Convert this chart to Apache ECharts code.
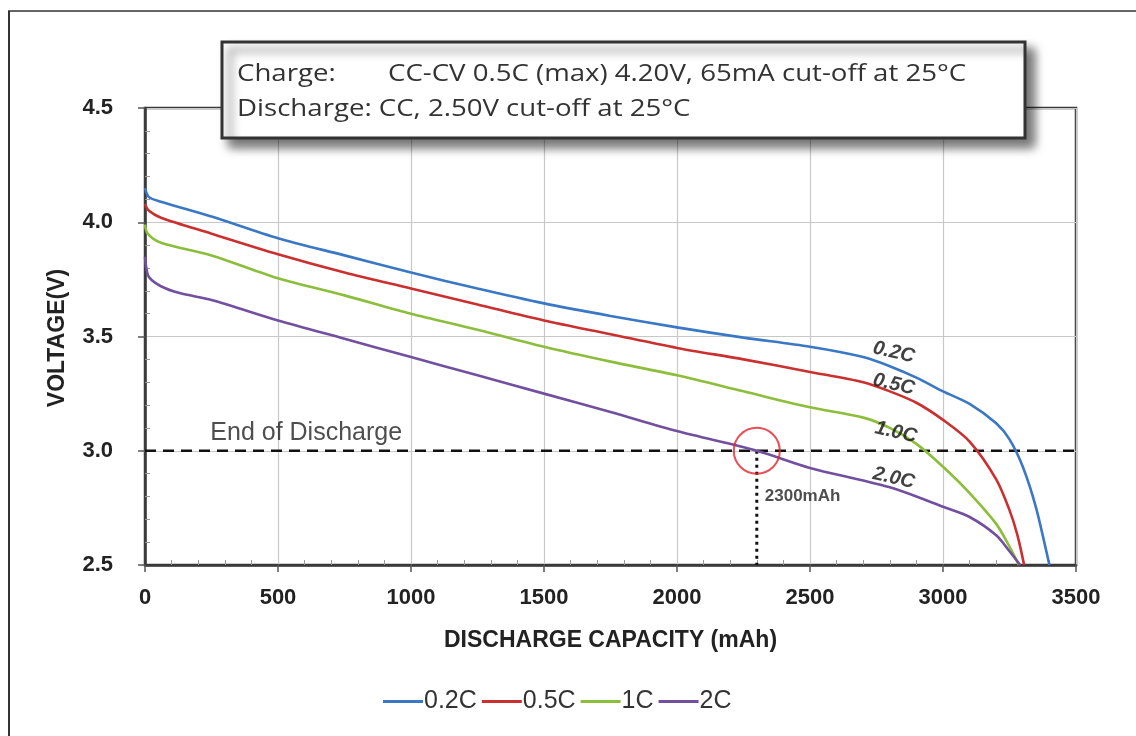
<!DOCTYPE html>
<html>
<head>
<meta charset="utf-8">
<script src="https://cdn.jsdelivr.net/npm/echarts@6/dist/echarts.min.js"></script>
<style>
html,body{margin:0;padding:0;background:#fff;}
#chart{width:1136px;height:736px;}
</style>
</head>
<body>
<div id="chart"></div>
<script>
// ---- data ----
const seriesNames = ['0.2C', '0.5C', '1C', '2C'];

const cap02  = [0, 15, 60, 250, 500, 750, 1000, 1250, 1500, 1750, 2000, 2250, 2500, 2700, 2800, 2900, 3000, 3100, 3200, 3250, 3300, 3350, 3400];
const volt02 = [4.15, 4.11, 4.09, 4.025, 3.93, 3.855, 3.78, 3.71, 3.645, 3.59, 3.54, 3.495, 3.455, 3.41, 3.37, 3.32, 3.26, 3.205, 3.12, 3.05, 2.93, 2.75, 2.5];

const cap05  = [0, 15, 60, 250, 500, 750, 1000, 1250, 1500, 1750, 2000, 2250, 2500, 2700, 2800, 2900, 3000, 3100, 3200, 3250, 3280, 3305];
const volt05 = [4.08, 4.05, 4.02, 3.95, 3.86, 3.78, 3.71, 3.64, 3.57, 3.51, 3.45, 3.40, 3.345, 3.30, 3.26, 3.21, 3.135, 3.04, 2.875, 2.74, 2.63, 2.5];

const cap10  = [0, 10, 60, 250, 500, 750, 1000, 1250, 1500, 1750, 2000, 2250, 2500, 2700, 2800, 2900, 3000, 3100, 3200, 3250, 3285];
const volt10 = [3.99, 3.95, 3.91, 3.855, 3.755, 3.68, 3.60, 3.53, 3.455, 3.39, 3.33, 3.26, 3.19, 3.145, 3.10, 3.03, 2.93, 2.815, 2.68, 2.58, 2.5];

const cap20  = [0, 5, 15, 60, 130, 250, 500, 750, 1000, 1250, 1500, 1750, 2000, 2300, 2500, 2700, 2800, 2900, 3000, 3100, 3200, 3250, 3290];
const volt20 = [3.85, 3.80, 3.76, 3.72, 3.69, 3.66, 3.57, 3.49, 3.41, 3.33, 3.25, 3.17, 3.086, 3.0, 2.925, 2.87, 2.84, 2.80, 2.755, 2.71, 2.63, 2.56, 2.5];

const xTicks = [0, 500, 1000, 1500, 2000, 2500, 3000, 3500];
const yTicks = [2.5, 3.0, 3.5, 4.0, 4.5];

const xAxisTitle = 'DISCHARGE CAPACITY (mAh)';
const yAxisTitle = 'VOLTAGE(V)';
const endOfDischargeV = 3.0;
const markCapacity = 2300;
const curveLabels = ['0.2C', '0.5C', '1.0C', '2.0C'];
const curveLabelCap = [2815, 2815, 2823, 2815];
const curveLabelVolt = [3.43, 3.29, 3.08, 2.88];
const eodText = 'End of Discharge';
const eodTextPos = [606, 3.077];
const markTextVolt = 2.80;
const boxLine1a = 'Charge:';
const boxLine1b = 'CC-CV 0.5C (max) 4.20V, 65mA cut-off at 25°C';
const boxLine2 = 'Discharge: CC, 2.50V cut-off at 25°C';

// ---- build ----
const colors = ['#3a77c4', '#c9302f', '#8cbd3b', '#7250a0'];
const caps = [cap02, cap05, cap10, cap20];
const volts = [volt02, volt05, volt10, volt20];
const zip = (a, b) => a.map((v, i) => [v, b[i]]);

const xMin = xTicks[0], xMax = xTicks[xTicks.length - 1];
const yMin = yTicks[0], yMax = yTicks[yTicks.length - 1];

const lineSeries = seriesNames.map((n, i) => ({
  name: n, type: 'line', data: zip(caps[i], volts[i]),
  symbol: 'none', smooth: 0.3,
  lineStyle: { color: colors[i], width: 2.6 }, itemStyle: { color: colors[i] },
  z: 5
}));

const font = 'Arial, "Liberation Sans", sans-serif';
const boxFont = '24px "Open Sans", sans-serif';

const option = {
  animation: false,
  backgroundColor: '#fff',
  grid: { left: 145, right: 60, top: 108, bottom: 171, show: true, borderColor: '#3a3a3a', borderWidth: 2.5, backgroundColor: 'transparent' },
  legend: {
    data: seriesNames, top: 684, left: 378, icon: 'rect', itemWidth: 40, itemHeight: 3, itemGap: 5,
    textStyle: { fontFamily: font, fontSize: 25, color: '#333', padding: [0, 0, 0, -4] }
  },
  xAxis: [{
    type: 'value', min: xMin, max: xMax, interval: 500,
    name: xAxisTitle, nameLocation: 'middle', nameGap: 64,
    nameTextStyle: { fontFamily: font, fontSize: 23, fontWeight: 'bold', color: '#222' },
    axisLine: { show: true, lineStyle: { color: '#3a3a3a', width: 2.5 } },
    axisTick: { show: true, length: 7, lineStyle: { color: '#555', width: 1.5 } },
    axisLabel: { margin: 22, fontFamily: font, fontSize: 22, fontWeight: 'bold', color: '#222', formatter: v => String(v) },
    splitLine: { show: true, lineStyle: { color: '#c8c8c8', width: 1.2 } }
  }, {
    type: 'value', min: xMin, max: xMax, interval: 500, gridIndex: 0, position: 'bottom',
    axisLine: { show: false }, axisLabel: { show: false }, splitLine: { show: false },
    axisTick: { show: false, inside: true },
    minorTick: { show: true, splitNumber: 5, length: 5, lineStyle: { color: '#999', width: 1 } }
  }],
  yAxis: [{
    type: 'value', min: yMin, max: yMax, interval: 0.5,
    axisLine: { show: true, lineStyle: { color: '#3a3a3a', width: 2.5 } },
    axisTick: { show: true, length: 7, lineStyle: { color: '#555', width: 1.5 } },
    axisLabel: { margin: 32, fontFamily: font, fontSize: 22, fontWeight: 'bold', color: '#222', formatter: v => v.toFixed(1) },
    splitLine: { show: true, lineStyle: { color: '#c8c8c8', width: 1.2 } }
  }, {
    type: 'value', min: yMin, max: yMax, interval: 0.5, gridIndex: 0, position: 'left',
    axisLine: { show: false }, axisLabel: { show: false }, splitLine: { show: false },
    axisTick: { show: false, inside: true },
    minorTick: { show: true, splitNumber: 5, length: 5, lineStyle: { color: '#999', width: 1 } }
  }],
  series: [
    ...lineSeries,
    {
      name: 'eod', type: 'line', data: [[xMin, endOfDischargeV], [xMax, endOfDischargeV]],
      symbol: 'none', silent: true, z: 4,
      lineStyle: { color: '#111', width: 2.5, type: [11, 7] }
    },
    {
      name: 'mark', type: 'line', data: [[markCapacity, endOfDischargeV], [markCapacity, yMin]],
      symbol: 'none', silent: true, z: 4,
      lineStyle: { color: '#111', width: 3, type: [3, 4] }
    },
    {
      name: 'circle', type: 'scatter', data: [[markCapacity, endOfDischargeV]],
      symbol: 'circle', symbolSize: 46, silent: true, z: 6,
      itemStyle: { color: 'rgba(0,0,0,0)', borderColor: '#e3232c', borderWidth: 2 }
    },
    {
      name: 'texts', type: 'scatter', symbolSize: 0, silent: true, z: 7,
      data: [
        ...curveLabels.map((t, i) => ({
          value: [curveLabelCap[i], curveLabelVolt[i]],
          label: { show: true, position: 'inside', formatter: t, rotate: -13,
            fontFamily: font, fontSize: 20, fontWeight: 'bold', fontStyle: 'italic', color: '#111' }
        })),
        { value: eodTextPos, label: { show: true, position: 'inside', formatter: eodText,
            fontFamily: font, fontSize: 25, color: '#222' } },
        { value: [markCapacity, markTextVolt], label: { show: true, position: 'right', distance: 8, formatter: markCapacity + 'mAh',
            fontFamily: font, fontSize: 17, fontWeight: 'bold', color: '#222' } }
      ]
    }
  ],
  graphic: [
    { type: 'line', shape: { x1: 9, y1: 11, x2: 9, y2: 736 }, style: { stroke: '#333', lineWidth: 2 }, z: 100 },
    { type: 'line', shape: { x1: 8, y1: 11, x2: 1136, y2: 11 }, style: { stroke: '#333', lineWidth: 1.5 }, z: 100 },
    { type: 'text', x: 58, y: 338, rotation: Math.PI / 2,
      style: { text: yAxisTitle, fill: '#222', font: 'bold 23px Arial, "Liberation Sans", sans-serif', align: 'center', verticalAlign: 'middle' }, z: 50 },
    { type: 'rect', shape: { x: 222, y: 42, width: 803, height: 96 },
      style: { fill: '#fff', stroke: '#333', lineWidth: 3, shadowBlur: 10, shadowOffsetX: 8, shadowOffsetY: 8, shadowColor: 'rgba(0,0,0,0.55)' }, z: 100 },
    { type: 'text', x: 237, y: 74, scaleX: 1.15, style: { text: boxLine1a, fill: '#333', font: boxFont, verticalAlign: 'middle' }, z: 101 },
    { type: 'text', x: 388, y: 74, scaleX: 1.15, style: { text: boxLine1b, fill: '#333', font: boxFont, verticalAlign: 'middle' }, z: 101 },
    { type: 'text', x: 237, y: 109, scaleX: 1.15, style: { text: boxLine2, fill: '#333', font: boxFont, verticalAlign: 'middle' }, z: 101 }
  ]
};

const chart = echarts.init(document.getElementById('chart'), null, { renderer: 'canvas' });
chart.setOption(option);
</script>
</body>
</html>
